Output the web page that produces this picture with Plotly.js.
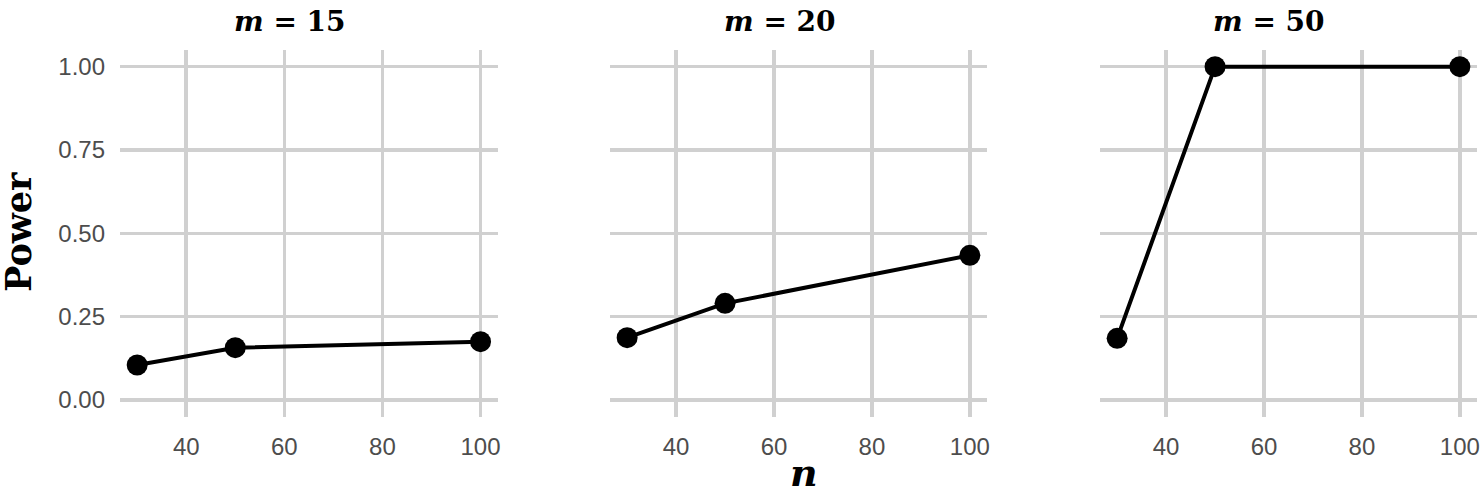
<!DOCTYPE html>
<html>
<head>
<meta charset="utf-8">
<script src="https://cdn.plot.ly/plotly-3.0.1.min.js"></script>
<style>
  html, body { margin: 0; padding: 0; background: #ffffff; }
  #chart { width: 1482px; height: 495px; }
</style>
</head>
<body>
<div id="chart"></div>
<script>
// sample sizes n on the x axis
const nVals = [30, 50, 100];
// power per facet (m)
const facets = ["15", "20", "50"];
const power15 = [0.105, 0.157, 0.175];
const power20 = [0.187, 0.290, 0.434];
const power50 = [0.185, 1.0, 1.0];
const xTicks = [40, 60, 80, 100];
const yTicks = [0, 0.25, 0.5, 0.75, 1.0];
const yTickText = ["0.00", "0.25", "0.50", "0.75", "1.00"];

const W = 1482, H = 495;
// panel edges in px
const panelsX = [[120, 497.7], [610, 987], [1100, 1477]];
const panelTop = 50, panelBottom = 416.7;
const titleX = [290, 780, 1269];

const series = [power15, power20, power50];
const traces = [];
series.forEach(function(vals, i) {
    const k = i === 0 ? "" : String(i + 1);
    traces.push({
        x: nVals, y: vals,
        xaxis: "x" + k, yaxis: "y" + k,
        type: "scatter", mode: "lines+markers",
        line: { color: "#000000", width: 4 },
        marker: { color: "#000000", size: 21 },
        showlegend: false, hoverinfo: "skip"
    });
});

const tickFont = { family: "Liberation Sans, Arial, sans-serif", size: 24, color: "#4d4d4d" };
const layout = {
    width: W, height: H,
    margin: { l: 0, r: 0, t: 0, b: 0 },
    paper_bgcolor: "#ffffff",
    plot_bgcolor: "#ffffff",
    annotations: []
};

panelsX.forEach(function(px, i) {
    const k = i === 0 ? "" : String(i + 1);
    layout["xaxis" + k] = {
        domain: [px[0] / W, px[1] / W],
        range: [26.5, 103.5],
        tickvals: xTicks,
        ticks: "", showline: false, zeroline: false,
        showgrid: true, gridcolor: "#d0d0d0", gridwidth: 3.5,
        tickfont: tickFont, ticklabelstandoff: 13,
        anchor: "y" + k, fixedrange: true
    };
    layout["yaxis" + k] = {
        domain: [(H - panelBottom) / H, (H - panelTop) / H],
        range: [-0.05, 1.05],
        tickvals: yTicks, ticktext: yTickText,
        showticklabels: i === 0,
        ticks: "", showline: false, zeroline: false,
        showgrid: true, gridcolor: "#d0d0d0", gridwidth: 3.5,
        tickfont: tickFont, ticklabelstandoff: 14,
        anchor: "x" + k, fixedrange: true
    };
    layout.annotations.push({
        text: "<b><i>m</i> = " + facets[i] + "</b>",
        xref: "paper", yref: "paper",
        x: titleX[i] / W, y: (H - 22) / H,
        xanchor: "center", yanchor: "middle",
        showarrow: false,
        font: { family: "DejaVu Serif, serif", size: 28, color: "#000000" }
    });
});

layout.annotations.push({
    text: "<b>Power</b>",
    xref: "paper", yref: "paper",
    x: 18 / W, y: (H - 232) / H,
    xanchor: "center", yanchor: "middle",
    textangle: -90, showarrow: false, borderpad: 0,
    font: { family: "DejaVu Serif, serif", size: 35, color: "#000000" }
});
layout.annotations.push({
    text: "<b><i>n</i></b>",
    xref: "paper", yref: "paper",
    x: 804 / W, y: (H - 472) / H,
    xanchor: "center", yanchor: "middle",
    showarrow: false,
    font: { family: "DejaVu Serif, serif", size: 38, color: "#000000" }
});

Plotly.newPlot("chart", traces, layout, { displayModeBar: false, staticPlot: true });
</script>
</body>
</html>
